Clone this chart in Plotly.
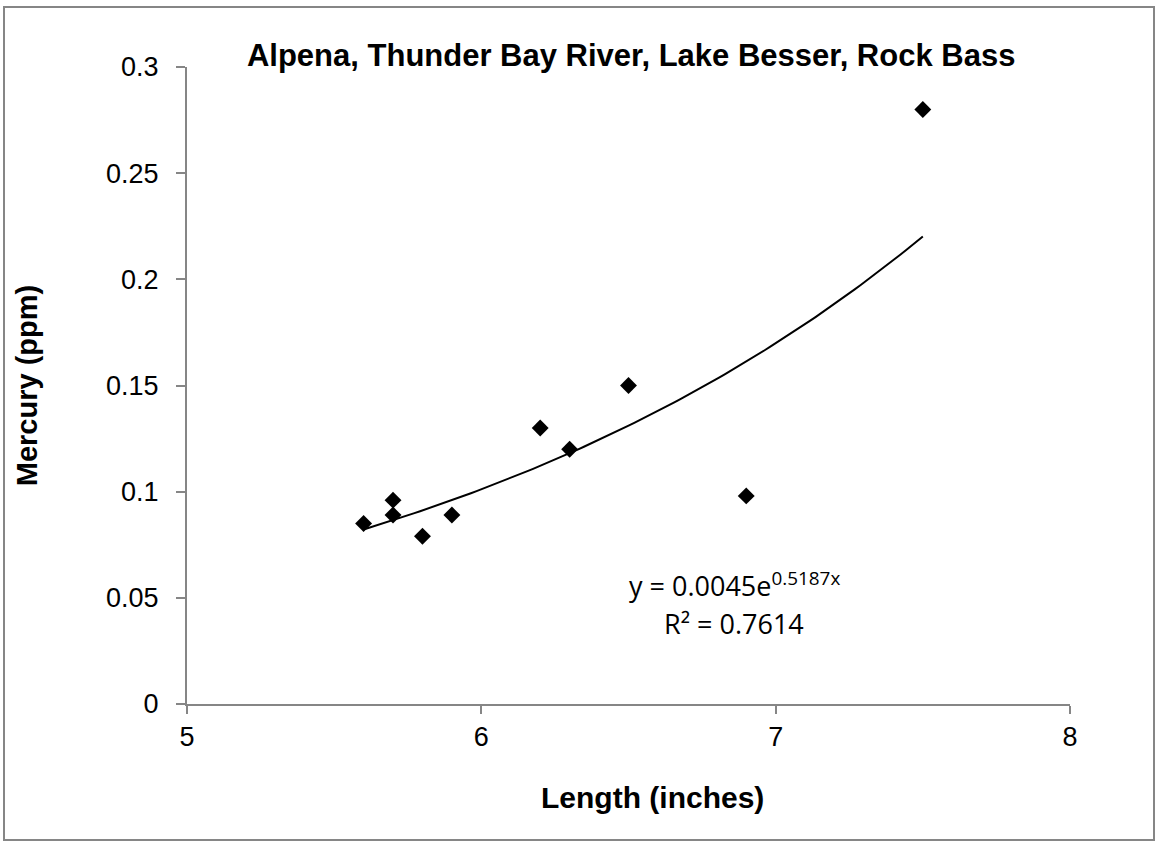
import numpy as np
import plotly.graph_objects as go

# Data
length_in = [5.6, 5.7, 5.7, 5.8, 5.9, 6.2, 6.3, 6.5, 6.9, 7.5]
mercury_ppm = [0.085, 0.096, 0.089, 0.079, 0.089, 0.13, 0.12, 0.15, 0.098, 0.28]
trend_a = 0.0045
trend_b = 0.5187
r_squared = 0.7614
x_ticks = [5, 6, 7, 8]
y_ticks = [0, 0.05, 0.1, 0.15, 0.2, 0.25, 0.3]
y_tick_labels = ["0", "0.05", "0.1", "0.15", "0.2", "0.25", "0.3"]

tx = np.linspace(min(length_in), max(length_in), 100)
ty = trend_a * np.exp(trend_b * tx)

fig = go.Figure()
fig.add_trace(go.Scatter(x=tx, y=ty, mode="lines",
                         line=dict(color="black", width=2), hoverinfo="skip"))
fig.add_trace(go.Scatter(x=length_in, y=mercury_ppm, mode="markers",
                         marker=dict(symbol="diamond", size=13, color="black")))

axis_color = "#868686"
fig.update_layout(
    width=1156, height=842,
    margin=dict(l=187, r=86, t=67, b=138),
    paper_bgcolor="white", plot_bgcolor="white",
    showlegend=False,
    font=dict(family="Liberation Sans, Arial", color="black", size=27),
    title=dict(text="<b>Alpena, Thunder Bay River, Lake Besser, Rock Bass</b>",
               x=0.546, xanchor="center", y=0.935, yanchor="middle",
               font=dict(size=31, family="Liberation Sans, Arial")),
    xaxis=dict(range=[5, 8], tickvals=x_ticks, showgrid=False, zeroline=False,
               showline=True, linecolor=axis_color, linewidth=2,
               ticks="outside", ticklen=8, tickcolor=axis_color, tickwidth=2,
               tickfont=dict(size=27)),
    yaxis=dict(range=[0, 0.3], tickvals=y_ticks, ticktext=y_tick_labels,
               showgrid=False, zeroline=False,
               showline=True, linecolor=axis_color, linewidth=2,
               ticks="outside", ticklen=9, tickcolor=axis_color, tickwidth=2,
               tickfont=dict(size=27), ticklabelstandoff=12,
               title=dict(text="<b>Mercury (ppm)</b>", font=dict(size=29), standoff=60)),
    shapes=[dict(type="rect", xref="paper", yref="paper",
                 x0=(4 - 187) / 883, x1=(1154 - 187) / 883,
                 y0=(704 - 840) / 637, y1=(704 - 7) / 637,
                 line=dict(color=axis_color, width=2), layer="below")],
    annotations=[
        dict(x=(652 - 187) / 883, y=(704 - 797) / 637, xref="paper", yref="paper",
             showarrow=False, xanchor="center", yanchor="middle",
             text="<b>Length (inches)</b>", font=dict(size=30)),
        dict(x=6.86, y=0.0565, xref="x", yref="y", showarrow=False,
             text=f"y = {trend_a}e<sup>{trend_b}x</sup>",
             font=dict(family="Open Sans", size=27)),
        dict(x=6.86, y=0.038, xref="x", yref="y", showarrow=False,
             text=f"R² = {r_squared}",
             font=dict(family="Open Sans", size=27)),
    ],
)

fig.write_html("out.html", config={"displayModeBar": False},
               post_script="document.body.style.margin='0';")
